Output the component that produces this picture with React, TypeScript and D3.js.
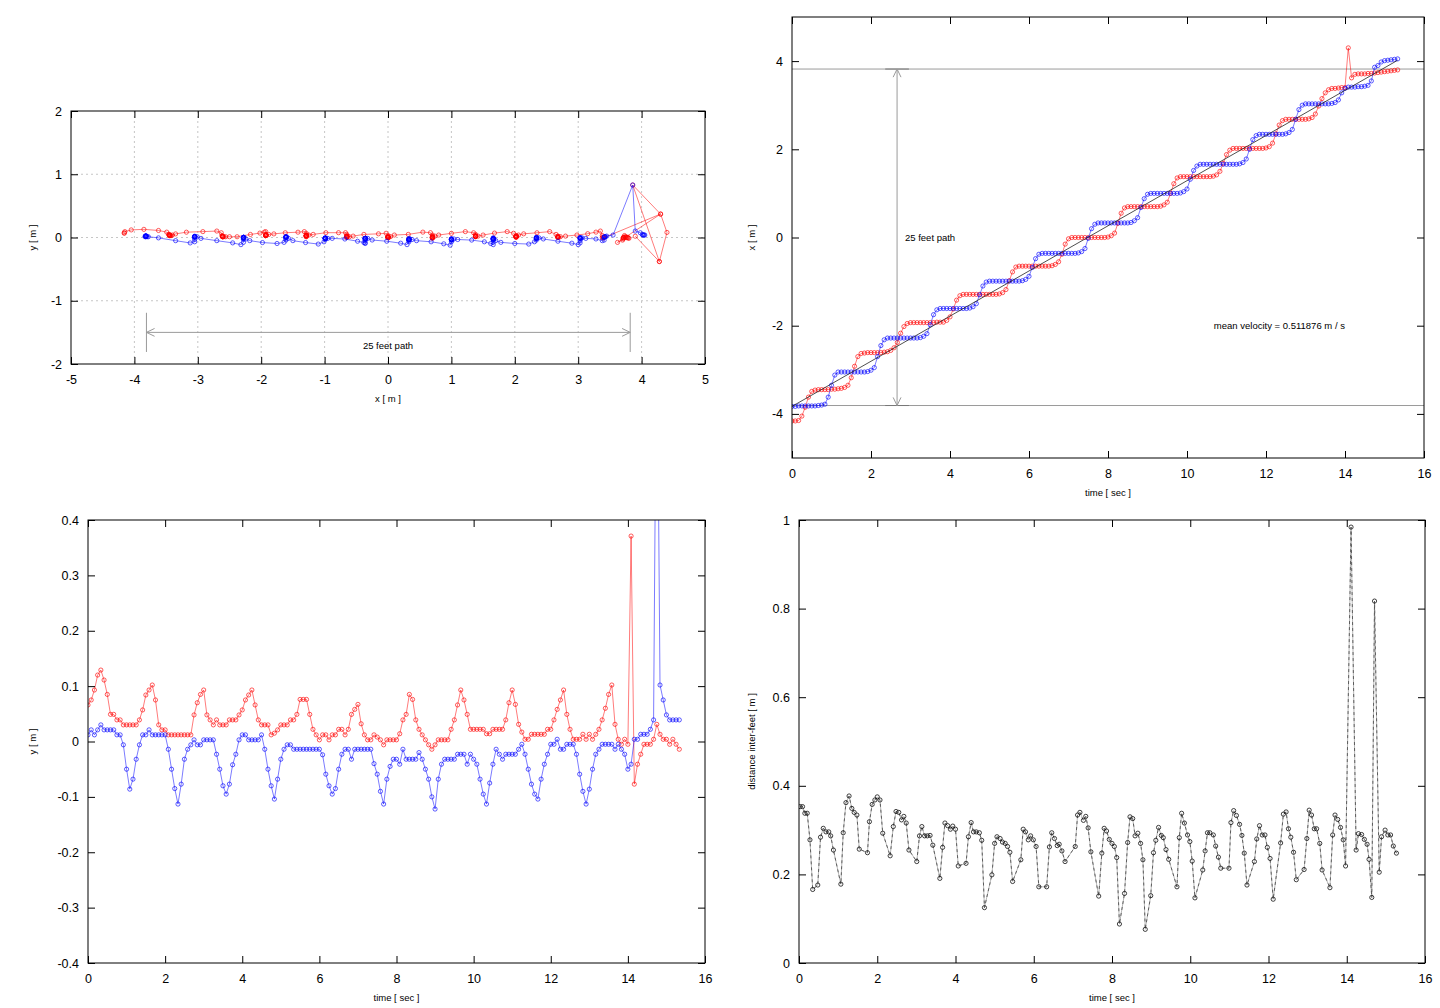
import React, { useRef, useEffect } from "react";
import * as d3 from "d3";

// tracker frame rate (samples per second)
const SAMPLE_RATE = 12;

// position of each foot along the walkway, one value per frame [m]
const redX = [
  -4.16, -4.16, -4.15,
  -4.05, -3.85, -3.62, -3.49,
  -3.46, -3.45, -3.45, -3.45, -3.45, -3.44, -3.44, -3.43, -3.42, -3.40, -3.35,
  -3.18, -2.92, -2.70, -2.63,
  -2.62, -2.61, -2.61, -2.61, -2.61, -2.61, -2.60, -2.59, -2.56, -2.50,
  -2.38, -2.17, -2.02, -1.95, -1.93,
  -1.93, -1.93, -1.93, -1.93, -1.93, -1.93, -1.93, -1.92, -1.92, -1.92, -1.88, -1.80,
  -1.62, -1.42, -1.32, -1.29,
  -1.29, -1.29, -1.29, -1.29, -1.29, -1.29, -1.29, -1.29, -1.29, -1.29, -1.28, -1.25, -1.18,
  -0.98, -0.78, -0.67, -0.65,
  -0.65, -0.65, -0.65, -0.65, -0.65, -0.65, -0.65, -0.65, -0.65, -0.64, -0.61, -0.55,
  -0.38, -0.15, -0.03, 0.0,
  0.0, 0.0, 0.0, 0.0, 0.0, 0.0, 0.0, 0.0, 0.0, 0.0, 0.01, 0.04, 0.1,
  0.32, 0.55, 0.67, 0.7,
  0.7, 0.7, 0.7, 0.7, 0.7, 0.7, 0.7, 0.7, 0.7, 0.71, 0.74, 0.8,
  1.0, 1.22, 1.35, 1.38,
  1.38, 1.38, 1.38, 1.38, 1.38, 1.38, 1.38, 1.38, 1.38, 1.39, 1.42, 1.5,
  1.68, 1.88, 1.98, 2.02,
  2.02, 2.02, 2.02, 2.02, 2.02, 2.02, 2.02, 2.02, 2.02, 2.03, 2.06, 2.14,
  2.35, 2.55, 2.65, 2.68,
  2.68, 2.68, 2.68, 2.68, 2.68, 2.68, 2.69, 2.72, 2.8,
  2.98, 3.15, 3.28, 3.35, 3.38,
  3.38, 3.39, 3.4, 3.4,
  4.3,
  3.62,
  3.7, 3.71, 3.71, 3.71, 3.72, 3.72, 3.73, 3.74, 3.75, 3.76, 3.77, 3.78, 3.79, 3.8,
];

const blueX = [
  -3.83, -3.83, -3.82, -3.82, -3.82, -3.82, -3.82, -3.82, -3.81, -3.8, -3.78,
  -3.62, -3.35, -3.12, -3.05,
  -3.05, -3.05, -3.05, -3.05, -3.05, -3.05, -3.05, -3.05, -3.04, -3.01, -2.95,
  -2.7, -2.45, -2.32, -2.28,
  -2.28, -2.28, -2.28, -2.28, -2.28, -2.28, -2.28, -2.28, -2.28, -2.27, -2.24, -2.18,
  -1.98, -1.75, -1.64, -1.61,
  -1.61, -1.61, -1.61, -1.61, -1.61, -1.61, -1.61, -1.61, -1.6, -1.57, -1.5,
  -1.3, -1.1, -1.01, -0.99,
  -0.99, -0.99, -0.99, -0.99, -0.99, -0.99, -0.99, -0.99, -0.99, -0.98, -0.95, -0.88,
  -0.68, -0.48, -0.38, -0.36,
  -0.36, -0.36, -0.36, -0.36, -0.36, -0.36, -0.36, -0.36, -0.36, -0.36, -0.35, -0.32, -0.25,
  -0.02, 0.2, 0.3, 0.33,
  0.33, 0.33, 0.33, 0.33, 0.33, 0.33, 0.33, 0.33, 0.33, 0.34, 0.38, 0.45,
  0.68, 0.88, 0.98, 1.0,
  1.0, 1.0, 1.0, 1.0, 1.0, 1.0, 1.0, 1.0, 1.01, 1.04, 1.1,
  1.32, 1.52, 1.62, 1.66,
  1.66, 1.66, 1.66, 1.66, 1.66, 1.66, 1.66, 1.66, 1.66, 1.66, 1.66, 1.67, 1.7, 1.78,
  2.0, 2.22, 2.31, 2.34,
  2.34, 2.34, 2.34, 2.34, 2.34, 2.34, 2.34, 2.35, 2.38, 2.45,
  2.68, 2.9, 3.0, 3.03,
  3.03, 3.03, 3.03, 3.03, 3.03, 3.03, 3.03, 3.04, 3.06, 3.12,
  3.28, 3.38, 3.41,
  3.41, 3.41, 3.42, 3.42, 3.43,
  3.45, 3.55, 3.86, 3.9, 3.98, 4.01, 4.02, 4.03, 4.04, 4.05,
];

// lateral position of each foot [m]
const redY = [
  0.066, 0.075, 0.093, 0.12, 0.129, 0.111, 0.085, 0.049, 0.049, 0.039, 0.039, 0.03,
  0.03, 0.03, 0.03, 0.03, 0.039, 0.057, 0.084, 0.093, 0.102, 0.075, 0.03, 0.021,
  0.021, 0.012, 0.012, 0.012, 0.012, 0.012, 0.012, 0.012, 0.012, 0.048, 0.07, 0.085,
  0.093, 0.048, 0.039, 0.03, 0.039, 0.03, 0.03, 0.03, 0.039, 0.039, 0.039, 0.048,
  0.057, 0.075, 0.084, 0.093, 0.066, 0.039, 0.03, 0.03, 0.03, 0.012, 0.015, 0.021,
  0.03, 0.03, 0.03, 0.039, 0.039, 0.049, 0.076, 0.076, 0.076, 0.049, 0.022, 0.012,
  0.003, 0.012, 0.012, 0.003, 0.012, 0.012, 0.022, 0.022, 0.012, 0.022, 0.049, 0.058,
  0.067, 0.032, 0.012, 0.003, 0.003, 0.012, 0.008, 0.003, -0.006, 0.003, 0.003, 0.003,
  0.003, 0.014, 0.039, 0.049, 0.085, 0.076, 0.039, 0.022, 0.012, 0.003, -0.006, -0.014,
  -0.006, 0.003, 0.003, 0.003, 0.003, 0.022, 0.039, 0.066, 0.093, 0.075, 0.049, 0.022,
  0.022, 0.022, 0.022, 0.022, 0.014, 0.014, 0.022, 0.022, 0.022, 0.022, 0.039, 0.07,
  0.093, 0.067, 0.031, 0.017, 0.004, 0.004, 0.013, 0.013, 0.013, 0.013, 0.013, 0.022,
  0.022, 0.039, 0.058, 0.075, 0.093, 0.049, 0.022, 0.004, 0.004, 0.004, 0.013, 0.004,
  0.013, 0.004, 0.013, 0.022, 0.039, 0.06, 0.085, 0.102, 0.031, 0.004, -0.005, 0.004,
  -0.005, 0.371, -0.077, -0.041, -0.023, -0.005, -0.005, -0.005, 0.004, 0.031, 0.013, 0.004,
  0.004, -0.005, 0.004, -0.005, -0.014,
];

const blueY = [
  0.012, 0.021, 0.012, 0.021, 0.03, 0.021, 0.021, 0.021, 0.021, 0.012, 0.012, -0.006,
  -0.05, -0.086, -0.068, -0.032, -0.006, 0.012, 0.012, 0.021, 0.012, 0.012, 0.012, 0.012,
  0.012, -0.014, -0.05, -0.085, -0.113, -0.077, -0.032, -0.014, -0.006, 0.003, -0.006, -0.006,
  0.003, 0.003, 0.003, 0.003, -0.023, -0.05, -0.08, -0.095, -0.077, -0.042, -0.023, 0.003,
  0.012, 0.012, 0.003, 0.003, 0.003, 0.003, 0.012, -0.014, -0.05, -0.08, -0.104, -0.068,
  -0.032, -0.014, -0.006, -0.006, -0.014, -0.014, -0.014, -0.014, -0.014, -0.014, -0.014, -0.014,
  -0.014, -0.024, -0.059, -0.08, -0.095, -0.085, -0.05, -0.023, -0.014, -0.014, -0.032, -0.014,
  -0.014, -0.014, -0.014, -0.014, -0.014, -0.04, -0.059, -0.09, -0.113, -0.068, -0.045, -0.032,
  -0.032, -0.041, -0.014, -0.032, -0.032, -0.032, -0.032, -0.02, -0.032, -0.05, -0.068, -0.1,
  -0.122, -0.068, -0.041, -0.032, -0.032, -0.032, -0.032, -0.023, -0.023, -0.023, -0.041, -0.023,
  -0.032, -0.041, -0.068, -0.095, -0.113, -0.075, -0.041, -0.014, -0.023, -0.032, -0.023, -0.023,
  -0.023, -0.023, -0.014, -0.005, -0.023, -0.05, -0.077, -0.095, -0.104, -0.068, -0.041, -0.023,
  -0.005, -0.005, 0.004, -0.014, -0.014, -0.005, -0.005, -0.005, -0.023, -0.059, -0.09, -0.113,
  -0.086, -0.05, -0.023, -0.014, -0.005, -0.005, -0.005, -0.005, -0.014, -0.005, -0.014, -0.023,
  -0.05, -0.041, 0.004, 0.004, 0.013, 0.013, 0.013, 0.022, 0.039, 0.83, 0.102, 0.075,
  0.048, 0.039, 0.039, 0.039, 0.039,
];

// extra red segments at the end of the walk, as seen in the path view
const redTailX = [3.9, 4.28, 4.4, 4.3, 3.86, 4.28];
const redTailY = [0.02, -0.38, 0.08, 0.37, 0.83, -0.38];

// distance between the feet: [time s, distance m]
const interFeet: [number, number][] = [
  [0.03, 0.353], [0.09, 0.353], [0.15, 0.338], [0.21, 0.338], [0.28, 0.278], [0.35, 0.166],
  [0.48, 0.176], [0.55, 0.284], [0.62, 0.304], [0.69, 0.296], [0.76, 0.296], [0.81, 0.287],
  [0.88, 0.255], [1.07, 0.178], [1.13, 0.294], [1.2, 0.362], [1.28, 0.377], [1.35, 0.349],
  [1.41, 0.34], [1.48, 0.334], [1.54, 0.257], [1.75, 0.249], [1.8, 0.319], [1.87, 0.358],
  [1.94, 0.368], [2.0, 0.375], [2.07, 0.368], [2.14, 0.293], [2.33, 0.242], [2.41, 0.308],
  [2.48, 0.342], [2.55, 0.34], [2.62, 0.323], [2.68, 0.331], [2.74, 0.316], [2.81, 0.255],
  [3.01, 0.229], [3.08, 0.287], [3.14, 0.308], [3.21, 0.287], [3.28, 0.287], [3.35, 0.288],
  [3.42, 0.266], [3.6, 0.191], [3.67, 0.261], [3.73, 0.316], [3.8, 0.31], [3.87, 0.302],
  [3.93, 0.309], [4.0, 0.302], [4.07, 0.219], [4.27, 0.225], [4.33, 0.285], [4.4, 0.317],
  [4.46, 0.296], [4.53, 0.296], [4.61, 0.294], [4.67, 0.277], [4.74, 0.125], [4.93, 0.199],
  [5.0, 0.27], [5.06, 0.285], [5.14, 0.281], [5.2, 0.273], [5.27, 0.27], [5.33, 0.263],
  [5.39, 0.25], [5.46, 0.184], [5.67, 0.233], [5.73, 0.302], [5.79, 0.296], [5.86, 0.278],
  [5.92, 0.287], [5.99, 0.278], [6.06, 0.263], [6.13, 0.172], [6.33, 0.172], [6.4, 0.262],
  [6.46, 0.294], [6.53, 0.281], [6.6, 0.265], [6.65, 0.268], [6.72, 0.253], [6.8, 0.229],
  [7.06, 0.263], [7.12, 0.334], [7.18, 0.34], [7.27, 0.322], [7.33, 0.331], [7.39, 0.305],
  [7.46, 0.251], [7.66, 0.151], [7.74, 0.248], [7.8, 0.304], [7.86, 0.298], [7.93, 0.279],
  [8.0, 0.27], [8.06, 0.263], [8.12, 0.238], [8.19, 0.088], [8.32, 0.157], [8.4, 0.272],
  [8.46, 0.33], [8.53, 0.326], [8.59, 0.287], [8.66, 0.293], [8.73, 0.27], [8.79, 0.233],
  [8.85, 0.076], [8.99, 0.152], [9.06, 0.249], [9.12, 0.277], [9.19, 0.306], [9.26, 0.288],
  [9.31, 0.283], [9.38, 0.256], [9.45, 0.234], [9.66, 0.172], [9.72, 0.283], [9.78, 0.338],
  [9.85, 0.316], [9.93, 0.289], [9.99, 0.274], [10.05, 0.23], [10.12, 0.147], [10.32, 0.21],
  [10.38, 0.253], [10.44, 0.294], [10.5, 0.294], [10.59, 0.289], [10.65, 0.264], [10.72, 0.239],
  [10.78, 0.214], [10.99, 0.214], [11.04, 0.317], [11.11, 0.344], [11.18, 0.333], [11.26, 0.313],
  [11.32, 0.288], [11.38, 0.248], [11.45, 0.176], [11.64, 0.229], [11.7, 0.28], [11.77, 0.31],
  [11.84, 0.289], [11.91, 0.289], [11.97, 0.261], [12.04, 0.236], [12.12, 0.144], [12.31, 0.271],
  [12.38, 0.336], [12.45, 0.341], [12.51, 0.303], [12.57, 0.284], [12.64, 0.25], [12.71, 0.188],
  [12.91, 0.211], [12.98, 0.281], [13.04, 0.345], [13.1, 0.334], [13.17, 0.303], [13.23, 0.303],
  [13.31, 0.27], [13.37, 0.21], [13.57, 0.17], [13.64, 0.289], [13.7, 0.334], [13.77, 0.324],
  [13.84, 0.306], [13.91, 0.278], [13.97, 0.219], [14.11, 0.984], [14.24, 0.255], [14.3, 0.292],
  [14.38, 0.29], [14.45, 0.279], [14.52, 0.268], [14.57, 0.234], [14.64, 0.148], [14.71, 0.817],
  [14.83, 0.205], [14.89, 0.285], [14.98, 0.3], [15.05, 0.289], [15.12, 0.289], [15.19, 0.264],
  [15.27, 0.248],
];

// 25 feet = 7.62 m
const pathEnds = [-3.81, 3.82];
const meanVelocity = 0.511876;
const fitIntercept = -3.83;
const arrowTime = 2.66;
const arrowLevel = -1.5;

const pathXTicks = [-5, -4, -3, -2, -1, 0, 1, 2, 3, 4, 5];
const pathYTicks = [-2, -1, 0, 1, 2];
const timeTicks = [0, 2, 4, 6, 8, 10, 12, 14, 16];
const walkTicks = [-4, -2, 0, 2, 4];
const lateralTicks = [-0.4, -0.3, -0.2, -0.1, 0, 0.1, 0.2, 0.3, 0.4];
const distTicks = [0, 0.2, 0.4, 0.6, 0.8, 1];

const RED = "#ff0000";
const BLUE = "#0000ff";
const GREY = "#9a9a9a";
const FONT = "'Liberation Sans', Arial, Helvetica, sans-serif";

interface PanelSpec {
  id: string;
  left: number;
  top: number;
  width: number;
  height: number;
  xDomain: [number, number];
  yDomain: [number, number];
  xTicks: number[];
  yTicks: number[];
  xLabel: string;
  yLabel: string;
  yLabelX: number;
  grid?: boolean;
}

function makePanel(svg: any, p: PanelSpec) {
  const right = p.left + p.width;
  const bottom = p.top + p.height;
  const x = d3.scaleLinear().domain(p.xDomain).range([p.left, right]);
  const y = d3.scaleLinear().domain(p.yDomain).range([bottom, p.top]);

  svg
    .append("clipPath")
    .attr("id", p.id)
    .append("rect")
    .attr("x", p.left)
    .attr("y", p.top)
    .attr("width", p.width)
    .attr("height", p.height);

  const back = svg.append("g");
  const data = svg.append("g").attr("clip-path", `url(#${p.id})`);
  const front = svg.append("g");

  if (p.grid) {
    back
      .selectAll(null)
      .data(p.xTicks.slice(1, -1))
      .join("line")
      .attr("x1", (d: number) => x(d))
      .attr("x2", (d: number) => x(d))
      .attr("y1", p.top)
      .attr("y2", bottom);
    back
      .selectAll(null)
      .data(p.yTicks.slice(1, -1))
      .join("line")
      .attr("x1", p.left)
      .attr("x2", right)
      .attr("y1", (d: number) => y(d))
      .attr("y2", (d: number) => y(d));
    back
      .selectAll("line")
      .attr("stroke", "#b8b8b8")
      .attr("stroke-width", 0.8)
      .attr("stroke-dasharray", "2,3");
  }

  const fmt = (d: any) => String(d);
  const none = () => "";
  front
    .append("g")
    .attr("transform", `translate(0,${bottom})`)
    .call(d3.axisBottom(x).tickValues(p.xTicks).tickSizeInner(-7).tickSizeOuter(0).tickPadding(11).tickFormat(fmt));
  front
    .append("g")
    .attr("transform", `translate(0,${p.top})`)
    .call(d3.axisTop(x).tickValues(p.xTicks).tickSizeInner(-7).tickSizeOuter(0).tickFormat(none));
  front
    .append("g")
    .attr("transform", `translate(${p.left},0)`)
    .call(d3.axisLeft(y).tickValues(p.yTicks).tickSizeInner(-7).tickSizeOuter(0).tickPadding(9).tickFormat(fmt));
  front
    .append("g")
    .attr("transform", `translate(${right},0)`)
    .call(d3.axisRight(y).tickValues(p.yTicks).tickSizeInner(-7).tickSizeOuter(0).tickFormat(none));
  front.selectAll(".domain").remove();
  front.selectAll(".tick line").attr("stroke", "#000").attr("stroke-width", 1);
  front.selectAll("text").attr("font-family", FONT).attr("font-size", 12.5).attr("fill", "#000");

  front
    .append("rect")
    .attr("x", p.left)
    .attr("y", p.top)
    .attr("width", p.width)
    .attr("height", p.height)
    .attr("fill", "none")
    .attr("stroke", "#000")
    .attr("stroke-width", 1);

  front
    .append("text")
    .attr("x", (p.left + right) / 2)
    .attr("y", bottom + 38)
    .attr("text-anchor", "middle")
    .attr("font-family", FONT)
    .attr("font-size", 9.5)
    .text(p.xLabel);
  front
    .append("text")
    .attr("transform", `translate(${p.yLabelX},${(p.top + bottom) / 2}) rotate(-90)`)
    .attr("text-anchor", "middle")
    .attr("font-family", FONT)
    .attr("font-size", 9.5)
    .text(p.yLabel);

  return { x, y, data, front };
}

function drawSeries(g: any, pts: number[][], x: any, y: any, color: string, r = 2.1) {
  const line = d3
    .line<number[]>()
    .x((d) => x(d[0]))
    .y((d) => y(d[1]));
  g.append("path")
    .datum(pts)
    .attr("d", line)
    .attr("fill", "none")
    .attr("stroke", color)
    .attr("stroke-opacity", 0.65)
    .attr("stroke-width", 0.8);
  g.append("g")
    .selectAll("circle")
    .data(pts)
    .join("circle")
    .attr("cx", (d: number[]) => x(d[0]))
    .attr("cy", (d: number[]) => y(d[1]))
    .attr("r", r)
    .attr("fill", "none")
    .attr("stroke", color)
    .attr("stroke-opacity", 0.8)
    .attr("stroke-width", 0.8);
}

// line with open "V" heads at both ends, in pixel coords
function doubleArrow(g: any, x1: number, y1: number, x2: number, y2: number) {
  g.append("line")
    .attr("x1", x1).attr("y1", y1).attr("x2", x2).attr("y2", y2)
    .attr("stroke", GREY).attr("stroke-width", 1);
  const len = 9;
  const spread = 0.45;
  const ends = [
    [x1, y1, Math.atan2(y2 - y1, x2 - x1)],
    [x2, y2, Math.atan2(y1 - y2, x1 - x2)],
  ];
  ends.forEach(([tx, ty, a]) => {
    [-spread, spread].forEach((s) => {
      g.append("line")
        .attr("x1", tx)
        .attr("y1", ty)
        .attr("x2", tx + len * Math.cos(a + s))
        .attr("y2", ty + len * Math.sin(a + s))
        .attr("stroke", GREY)
        .attr("stroke-width", 1);
    });
  });
}

const App: React.FC = () => {
  const ref = useRef<SVGSVGElement>(null);

  useEffect(() => {
    if (!ref.current) return;
    const svg = d3.select(ref.current);
    svg.selectAll("*").remove();

    const time = redX.map((_, i) => i / SAMPLE_RATE);
    const tEnd = time[time.length - 1];

    // ---- path seen from above
    const path = makePanel(svg, {
      id: "clip-path-view",
      left: 71, top: 111, width: 634, height: 253,
      xDomain: [-5, 5], yDomain: [-2, 2],
      xTicks: pathXTicks, yTicks: pathYTicks,
      xLabel: "x [ m ]", yLabel: "y [ m ]", yLabelX: 36, grid: true,
    });
    drawSeries(path.data, redX.map((v, i) => [v, redY[i]]), path.x, path.y, RED);
    drawSeries(path.data, redTailX.map((v, i) => [v, redTailY[i]]), path.x, path.y, RED);
    drawSeries(path.data, blueX.map((v, i) => [v, blueY[i]]), path.x, path.y, BLUE);

    const pa = path.front.append("g");
    doubleArrow(pa, path.x(pathEnds[0]), path.y(arrowLevel), path.x(pathEnds[1]), path.y(arrowLevel));
    pathEnds.forEach((e) => {
      pa.append("line")
        .attr("x1", path.x(e)).attr("x2", path.x(e))
        .attr("y1", path.y(-1.19)).attr("y2", path.y(-1.81))
        .attr("stroke", GREY).attr("stroke-width", 1);
    });
    pa.append("text")
      .attr("x", path.x(0))
      .attr("y", path.y(-1.71) + 3.5)
      .attr("text-anchor", "middle")
      .attr("font-family", FONT)
      .attr("font-size", 9.5)
      .text("25 feet path");

    // ---- walking position over time
    const walk = makePanel(svg, {
      id: "clip-walk",
      left: 792, top: 17, width: 632, height: 441,
      xDomain: [0, 16], yDomain: [-5, 5],
      xTicks: timeTicks, yTicks: walkTicks,
      xLabel: "time [ sec ]", yLabel: "x [ m ]", yLabelX: 755,
    });
    const wl = walk.data.append("g");
    pathEnds.forEach((e) => {
      wl.append("line")
        .attr("x1", walk.x(0)).attr("x2", walk.x(16))
        .attr("y1", walk.y(e)).attr("y2", walk.y(e))
        .attr("stroke", GREY).attr("stroke-width", 1);
      wl.append("line")
        .attr("x1", walk.x(arrowTime - 0.3)).attr("x2", walk.x(arrowTime + 0.3))
        .attr("y1", walk.y(e)).attr("y2", walk.y(e))
        .attr("stroke", "#777").attr("stroke-width", 1);
    });
    doubleArrow(wl, walk.x(arrowTime), walk.y(pathEnds[0]), walk.x(arrowTime), walk.y(pathEnds[1]));
    drawSeries(walk.data, redX.map((v, i) => [time[i], v]), walk.x, walk.y, RED);
    drawSeries(walk.data, blueX.map((v, i) => [time[i], v]), walk.x, walk.y, BLUE);
    walk.data
      .append("path")
      .datum([[0, fitIntercept], [tEnd, fitIntercept + meanVelocity * tEnd]])
      .attr("d", d3.line<number[]>().x((d) => walk.x(d[0])).y((d) => walk.y(d[1])))
      .attr("stroke", "#222")
      .attr("stroke-width", 0.8)
      .attr("fill", "none");
    walk.front
      .append("text")
      .attr("x", walk.x(2.86))
      .attr("y", walk.y(0) + 3.5)
      .attr("font-family", FONT)
      .attr("font-size", 9.5)
      .text("25 feet path");
    walk.front
      .append("text")
      .attr("x", walk.x(10.68))
      .attr("y", walk.y(-2.0) + 3.5)
      .attr("font-family", FONT)
      .attr("font-size", 9.5)
      .text(`mean velocity = ${meanVelocity} m / s`);

    // ---- lateral position over time
    const lat = makePanel(svg, {
      id: "clip-lateral",
      left: 88, top: 520, width: 617, height: 443,
      xDomain: [0, 16], yDomain: [-0.4, 0.4],
      xTicks: timeTicks, yTicks: lateralTicks,
      xLabel: "time [ sec ]", yLabel: "y [ m ]", yLabelX: 36,
    });
    drawSeries(lat.data, redY.map((v, i) => [time[i], v]), lat.x, lat.y, RED);
    drawSeries(lat.data, blueY.map((v, i) => [time[i], v]), lat.x, lat.y, BLUE);

    // ---- distance between feet
    const dist = makePanel(svg, {
      id: "clip-dist",
      left: 799, top: 520, width: 626, height: 443,
      xDomain: [0, 16], yDomain: [0, 1],
      xTicks: timeTicks, yTicks: distTicks,
      xLabel: "time [ sec ]", yLabel: "distance inter-feet [ m ]", yLabelX: 755,
    });
    const dline = d3
      .line<[number, number]>()
      .x((d) => dist.x(d[0]))
      .y((d) => dist.y(d[1]));
    dist.data.append("path").datum(interFeet).attr("d", dline)
      .attr("fill", "none").attr("stroke", "#b0b0b0").attr("stroke-width", 0.9);
    dist.data.append("path").datum(interFeet).attr("d", dline)
      .attr("fill", "none").attr("stroke", "#444").attr("stroke-width", 0.8)
      .attr("stroke-dasharray", "3,3");
    dist.data
      .append("g")
      .selectAll("circle")
      .data(interFeet)
      .join("circle")
      .attr("cx", (d: [number, number]) => dist.x(d[0]))
      .attr("cy", (d: [number, number]) => dist.y(d[1]))
      .attr("r", 2.1)
      .attr("fill", "none")
      .attr("stroke", "#111")
      .attr("stroke-width", 0.8);
  }, []);

  return (
    <svg
      ref={ref}
      width={1440}
      height={1008}
      style={{ position: "absolute", left: 0, top: 0, background: "#fff" }}
    />
  );
};

export default App;
